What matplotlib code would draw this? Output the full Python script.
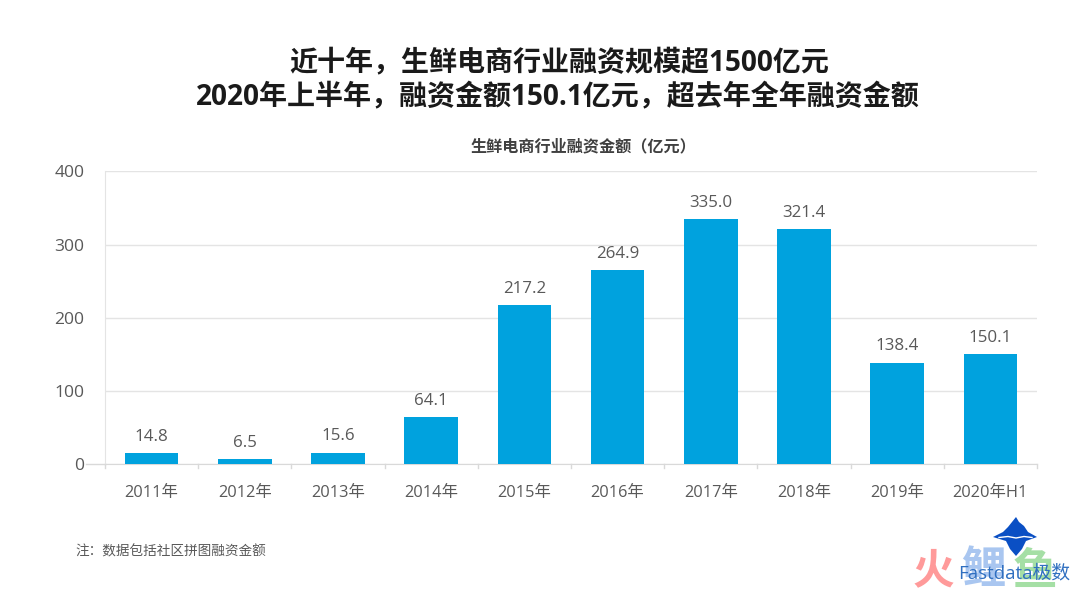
import matplotlib
matplotlib.use("Agg")
import matplotlib.pyplot as plt
from matplotlib.patches import Polygon
import numpy as np

plt.rcParams["font.family"] = ["Open Sans", "Noto Sans CJK SC", "DejaVu Sans"]

years = ["2011年", "2012年", "2013年", "2014年", "2015年", "2016年", "2017年", "2018年", "2019年", "2020年H1"]
funding = [14.8, 6.5, 15.6, 64.1, 217.2, 264.9, 335.0, 321.4, 138.4, 150.1]
y_ticks = [0, 100, 200, 300, 400]

title_lines = ["近十年，生鲜电商行业融资规模超1500亿元", "2020年上半年，融资金额150.1亿元，超去年全年融资金额"]
chart_title = "生鲜电商行业融资金额（亿元）"
note = "注：数据包括社区拼图融资金额"

BAR_COLOR = "#00a2de"
GRID_COLOR = "#e4e4e4"
TEXT_COLOR = "#595959"

W, H = 1080, 597
fig = plt.figure(figsize=(W / 100, H / 100), dpi=100, facecolor="white")

# axes box taken in pixels from the reference
ax = fig.add_axes([105 / W, 1 - 464 / H, (1037 - 105) / W, (464 - 171.5) / H])
x = np.arange(len(years))
ax.bar(x, funding, width=0.575, color=BAR_COLOR, zorder=3)
ax.set_xlim(-0.5, len(years) - 0.5)
ax.set_ylim(0, 400)
ax.set_yticks(y_ticks)
ax.set_xticks(x)
ax.set_xticklabels(years, fontsize=11.8, color=TEXT_COLOR)
ax.tick_params(axis="x", length=0, pad=15)
ax.tick_params(axis="y", length=0, pad=15, labelsize=12.6, labelcolor=TEXT_COLOR)
ax.grid(axis="y", color=GRID_COLOR, linewidth=1, zorder=0)
ax.set_axisbelow(True)
for side in ["top", "right"]:
    ax.spines[side].set_visible(False)
ax.spines["left"].set_color(GRID_COLOR)
ax.spines["bottom"].set_color("#d9d9d9")

# small separators below the baseline
for edge in np.arange(len(years) + 1) - 0.5:
    ax.plot([edge, edge], [0, -6], color="#d9d9d9", linewidth=1, clip_on=False, zorder=2)
ax.plot([-0.7, -0.5], [0, 0], color="#d9d9d9", linewidth=1, clip_on=False)

for xi, v in zip(x, funding):
    ax.annotate(f"{v:.1f}", (xi, v), xytext=(0, 6), textcoords="offset points",
                ha="center", va="bottom", fontsize=12.2, color=TEXT_COLOR)

fig.text(559 / W, 1 - 63 / H, title_lines[0], ha="center", va="center", fontsize=20.2,
         fontweight="bold", color="#1a1a1a")
fig.text(558 / W, 1 - 98 / H, title_lines[1], ha="center", va="center", fontsize=20.2,
         fontweight="bold", color="#1a1a1a")
fig.text(583 / W, 1 - 147 / H, chart_title, ha="center", va="center", fontsize=11.6,
         fontweight="bold", color="#404040")
fig.text(75 / W, 1 - 552 / H, note, ha="left", va="center", fontsize=9.8, color="#595959")

# logo and watermark text
berg_px = [(993, 537), (1003, 532), (1008, 527), (1012, 522), (1016, 517), (1019, 522), (1024, 526), (1028, 532),
           (1037, 537), (1026, 541), (1022, 549), (1016, 556), (1010, 549), (1006, 541)]
fig.add_artist(Polygon([(px, H - py) for px, py in berg_px], closed=True, transform=None,
                       facecolor="#0a4fc4", edgecolor="none", zorder=5))
fig.add_artist(plt.Line2D([999 / W, 1008 / W, 1016 / W, 1024 / W, 1032 / W],
                          [1 - 537.5 / H, 1 - 536.5 / H, 1 - 538 / H, 1 - 536.5 / H, 1 - 537.5 / H],
                          color="white", linewidth=1, zorder=6))
fig.text(933 / W, 1 - 573 / H, "火", fontsize=30, fontweight="bold", color="#ff9a9a", ha="center", va="center")
fig.text(983 / W, 1 - 572 / H, "鲤", fontsize=32, fontweight="bold", color="#a9c6f0", ha="center", va="center")
fig.text(1035 / W, 1 - 573 / H, "鱼", fontsize=32, fontweight="bold", color="#a5dfa5", ha="center", va="center")
fig.text(1014.5 / W, 1 - 573 / H, "Fastdata极数", fontsize=13.5, color="#2f6fc0", ha="center", va="center", zorder=7)

fig.savefig("out.png", dpi=100)
plt.close(fig)
